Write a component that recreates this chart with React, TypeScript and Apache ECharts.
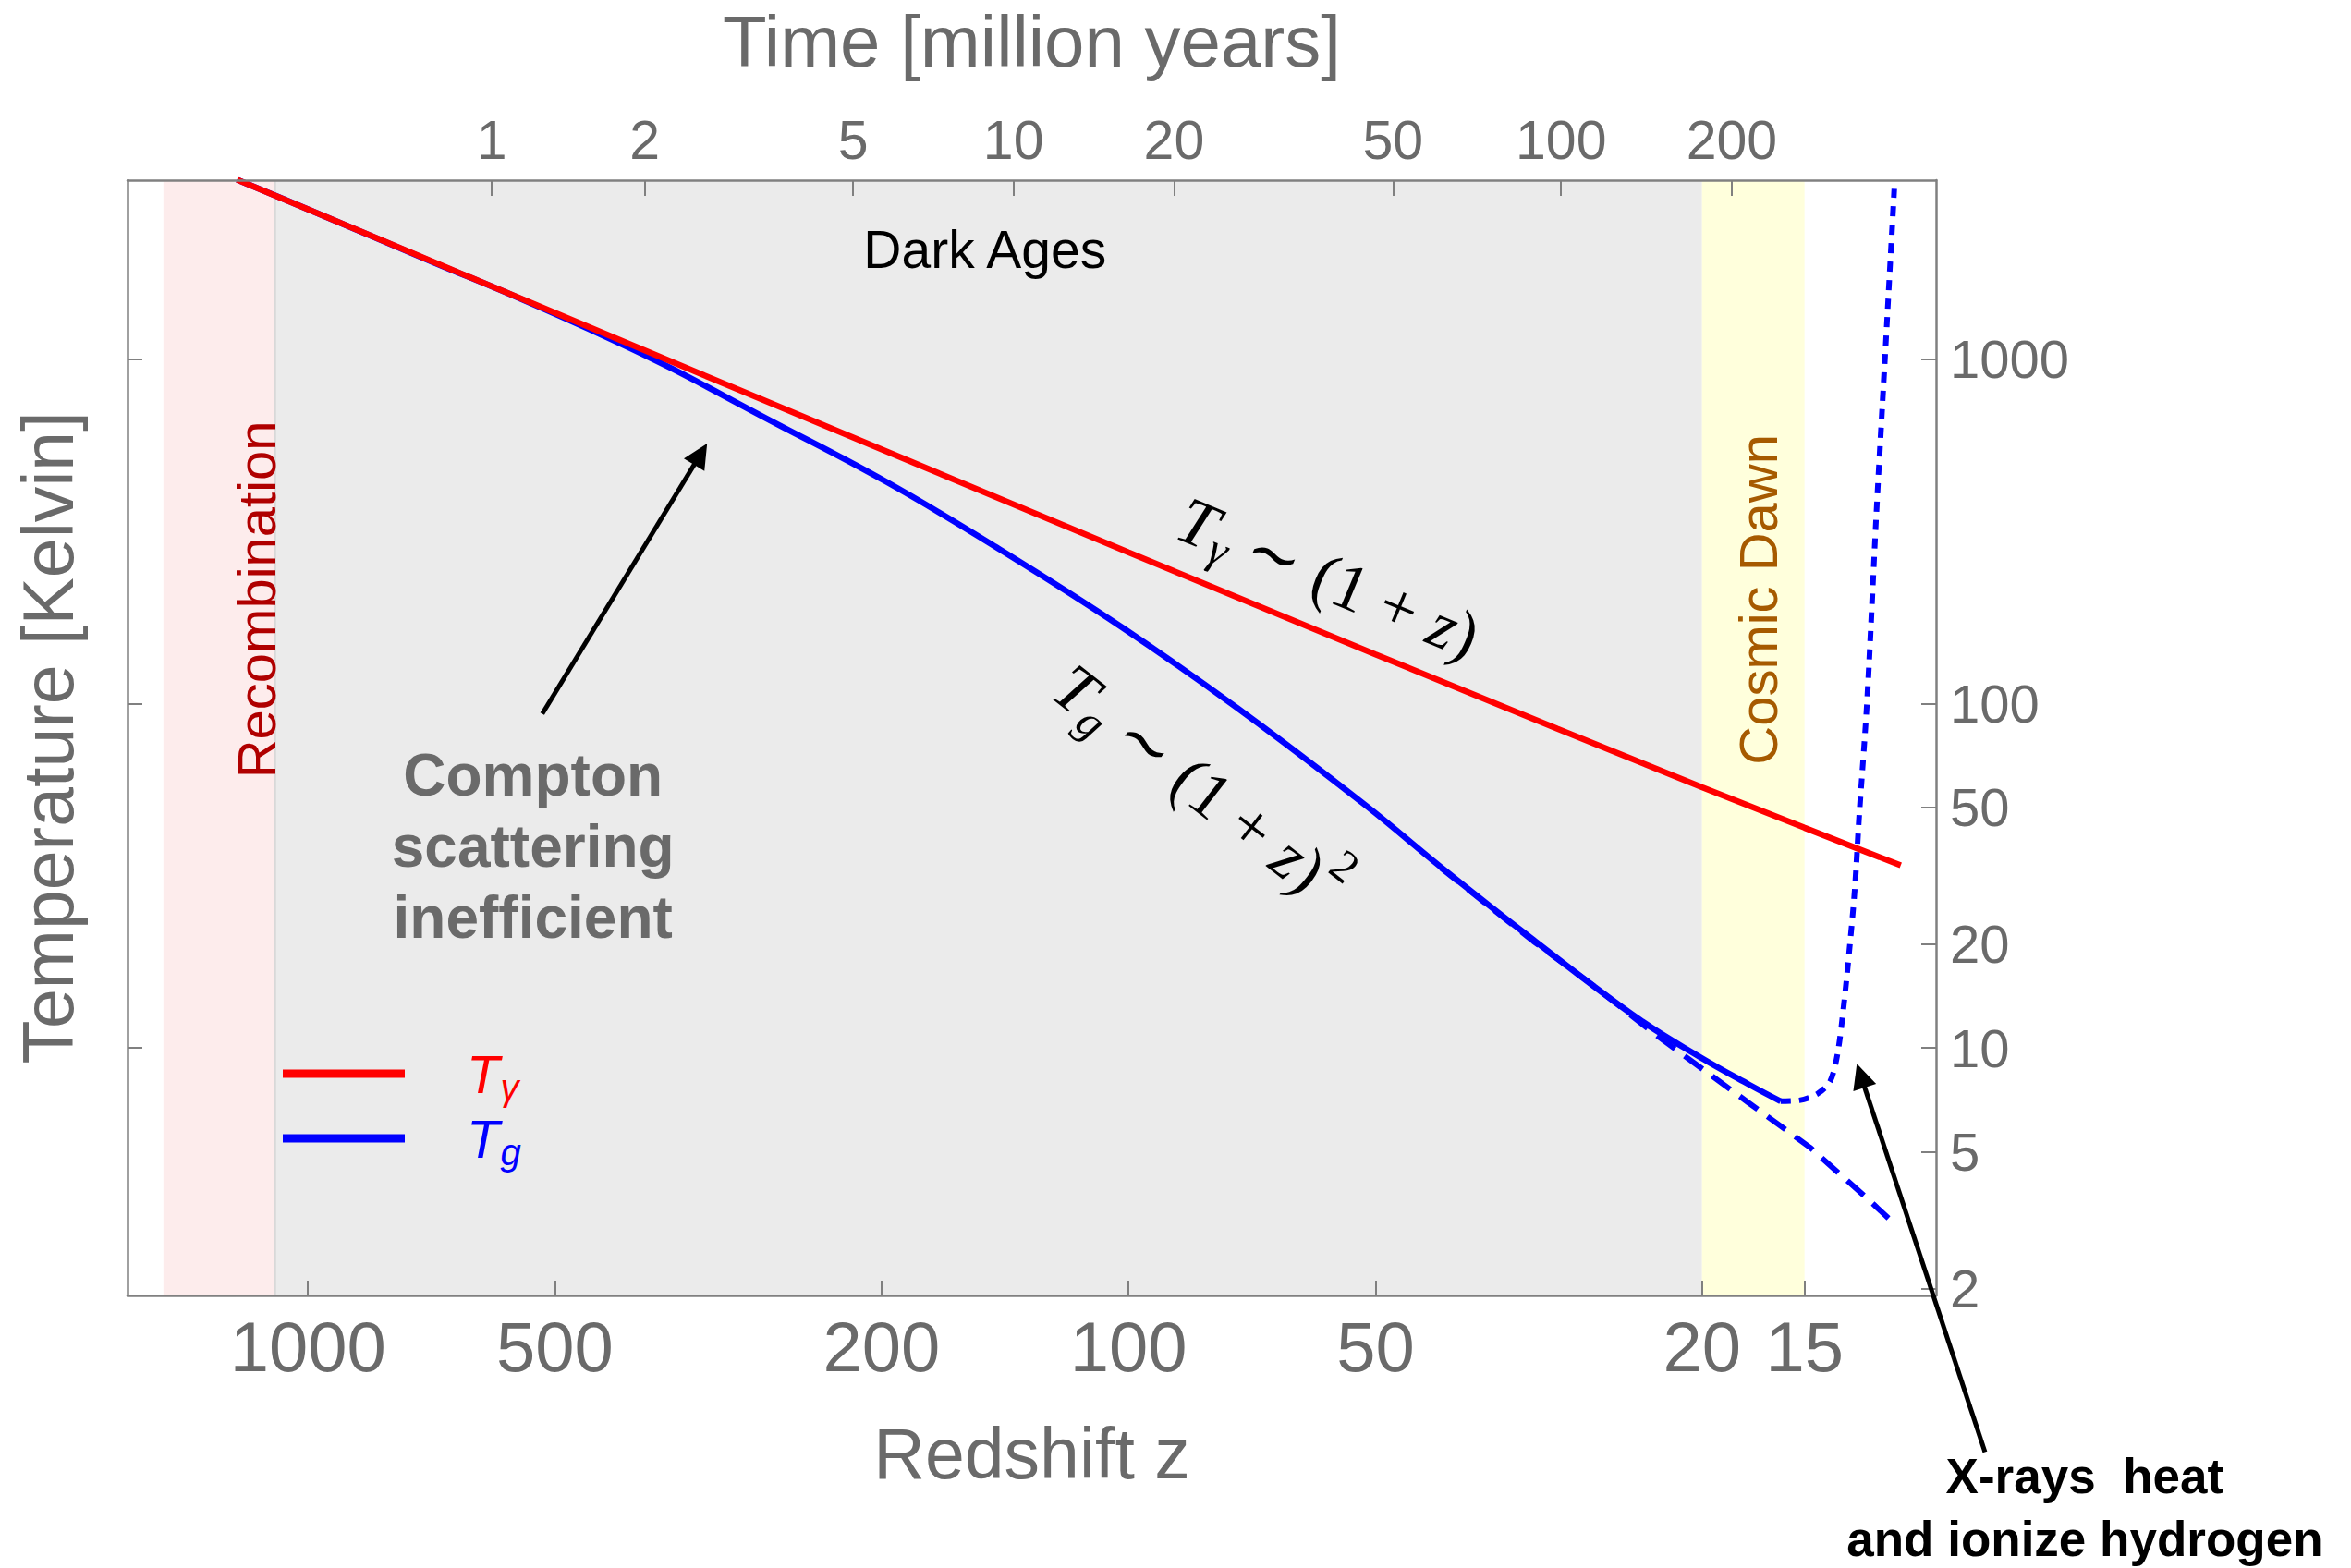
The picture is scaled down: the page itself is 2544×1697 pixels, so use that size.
import React, { useEffect, useRef } from "react";
import * as echarts from "echarts";

const SANS = "'Liberation Sans', Arial, Helvetica, sans-serif";
const SERIF = "'Liberation Serif', 'DejaVu Serif', 'Times New Roman', serif";

// CMB photon temperature T_gamma (K) against redshift z
const photonZ = [1220, 1000, 700, 500, 300, 200, 100, 50, 30, 20, 15, 11.45];
const photonT = [3327, 2730, 1910, 1365, 820, 548, 275, 139, 84.5, 57.2, 43.6, 33.9];

// Gas kinetic temperature T_g (K), standard history down to Cosmic Dawn
const gasZ = [1220, 1000, 700, 555, 428, 360, 278, 197, 144, 102, 72.3, 51.2, 41.6, 32.1, 23.96, 20.16, 17.55, 16.04];
const gasT = [3327, 2730, 1905, 1512, 1147, 940, 679, 440, 282, 167, 94, 50.3, 33.5, 20.6, 12.2, 9.44, 7.84, 7.0];

// Purely adiabatic cooling continued without any heating
const adiabaticZ = [41.6, 32.1, 26.96, 22.75, 17.55, 14.77, 12.59, 11.85];
const adiabaticT = [33.3, 20.4, 15.0, 10.9, 6.93, 5.14, 3.66, 3.2];

// Gas heated by X-rays after the first sources switch on
const heatedZ = [16.04, 15.22, 14.45, 13.96, 13.67, 13.43, 13.2, 13.03, 12.86, 12.59, 12.27, 11.97, 11.66];
const heatedT = [7.0, 7.04, 7.37, 8.0, 9.64, 13.4, 20.2, 28.7, 48.1, 100, 344, 1000, 3130];

// Axis ticks
const redshiftTicks = [1000, 500, 200, 100, 50, 20, 15];
const timeTicksMyr = [1, 2, 5, 10, 20, 50, 100, 200];
const timeTickRedshift = [597, 388.6, 216.6, 138.1, 88.0, 47.6, 29.7, 18.4];
const tempTicksLabelled = [2, 5, 10, 20, 50, 100, 1000];
const tempTicksPlain = [10, 100, 1000];
const redshiftRange = [10.37, 1659];
const tempRange = [1.91, 3315];

// Epochs as redshift intervals
const epochNames = ["Recombination", "Dark Ages", "Cosmic Dawn"];
const epochStartZ = [1500, 1100, 20];
const epochEndZ = [1100, 20, 15];

const epochFills = ["#fdecec", "#ebebeb", "#ffffdc"];

const lg = Math.log10;
const toPoints = (zs: number[], ts: number[]) => zs.map((z, i) => [lg(z), lg(ts[i])]);

const GREY = "#6a6a6a";
const axisLineStyle = { color: "#808080", width: 2.5 };
const tickLineStyle = { color: "#808080", width: 2 };

function arrow(tail: number[], tip: number[]) {
  const dx = tip[0] - tail[0];
  const dy = tip[1] - tail[1];
  const len = Math.hypot(dx, dy);
  const ux = dx / len;
  const uy = dy / len;
  const headLen = 27;
  const halfW = 13;
  const bx = tip[0] - ux * headLen;
  const by = tip[1] - uy * headLen;
  return [
    {
      type: "line",
      z: 100,
      silent: true,
      shape: { x1: tail[0], y1: tail[1], x2: bx + ux * 3, y2: by + uy * 3 },
      style: { stroke: "#000", lineWidth: 5 },
    },
    {
      type: "polygon",
      z: 100,
      silent: true,
      shape: {
        points: [
          [tip[0], tip[1]],
          [bx - uy * halfW, by + ux * halfW],
          [bx + uy * halfW, by - ux * halfW],
        ],
      },
      style: { fill: "#000" },
    },
  ];
}

const mathRich = {
  it: { fontFamily: SERIF, fontStyle: "italic", fontSize: 72, lineHeight: 110, color: "#000" },
  rm: { fontFamily: SERIF, fontSize: 72, lineHeight: 110, color: "#000" },
  sub: {
    fontFamily: SERIF,
    fontStyle: "italic",
    fontSize: 49,
    color: "#000",
    verticalAlign: "bottom",
    padding: [0, 0, 13, 2],
  },
  sup: {
    fontFamily: SERIF,
    fontSize: 49,
    color: "#000",
    verticalAlign: "top",
    padding: [2, 0, 0, 3],
  },
};

export default function App() {
  const ref = useRef<HTMLDivElement>(null);

  useEffect(() => {
    if (!ref.current) return;
    const chart = echarts.init(ref.current, null, { renderer: "svg" });

    const xCommon = {
      type: "value",
      inverse: true,
      min: lg(redshiftRange[0]),
      max: lg(redshiftRange[1]),
      z: 10,
      nameLocation: "middle",
      splitLine: { show: false },
      axisLine: { show: true, onZero: false, lineStyle: axisLineStyle },
    };
    const yCommon = {
      type: "value",
      min: lg(tempRange[0]),
      max: lg(tempRange[1]),
      z: 10,
      splitLine: { show: false },
      axisLine: { show: true, onZero: false, lineStyle: axisLineStyle },
    };

    const option: any = {
      animation: false,
      backgroundColor: "#ffffff",
      grid: { left: 138, right: 449, top: 195, bottom: 295, outerBoundsMode: "none" },
      legend: {
        show: true,
        orient: "vertical",
        left: 306,
        top: 1133,
        padding: 0,
        itemGap: 6,
        icon: "rect",
        itemWidth: 132,
        itemHeight: 9,
        selectedMode: false,
        data: ["Tγ", "Tg"],
        formatter: (name: string) => (name === "Tγ" ? "{tr|T}{sr|γ}" : "{tb|T}{sb|g}"),
        textStyle: {
          rich: {
            tr: { fontFamily: SANS, fontStyle: "italic", fontSize: 58, color: "#ff0000", lineHeight: 70, padding: [0, 0, 0, 62] },
            sr: { fontFamily: SANS, fontStyle: "italic", fontSize: 40, color: "#ff0000", verticalAlign: "bottom", padding: [0, 0, 0, 1] },
            tb: { fontFamily: SANS, fontStyle: "italic", fontSize: 58, color: "#0000ff", lineHeight: 70, padding: [0, 0, 0, 62] },
            sb: { fontFamily: SANS, fontStyle: "italic", fontSize: 40, color: "#0000ff", verticalAlign: "bottom", padding: [0, 0, 0, 1] },
          },
        },
      },
      xAxis: [
        {
          ...xCommon,
          position: "bottom",
          name: "Redshift z",
          nameGap: 132,
          nameTextStyle: { fontSize: 77, color: GREY, fontFamily: SANS },
          axisTick: { show: true, inside: true, length: 16, lineStyle: tickLineStyle, customValues: redshiftTicks.map(lg) },
          axisLabel: {
            show: true,
            customValues: redshiftTicks.map(lg),
            formatter: (v: number) => String(Math.round(Math.pow(10, v))),
            fontSize: 76,
            color: GREY,
            fontFamily: SANS,
            margin: 17,
          },
        },
        {
          ...xCommon,
          position: "top",
          name: "Time [million years]",
          nameGap: 111,
          nameTextStyle: { fontSize: 78, color: GREY, fontFamily: SANS },
          axisTick: { show: true, inside: true, length: 17, lineStyle: tickLineStyle, customValues: timeTickRedshift.map(lg) },
          axisLabel: {
            show: true,
            customValues: timeTickRedshift.map(lg),
            formatter: (v: number) => {
              const i = timeTickRedshift.findIndex((z) => Math.abs(lg(z) - v) < 1e-9);
              return i >= 0 ? String(timeTicksMyr[i]) : "";
            },
            fontSize: 59,
            color: GREY,
            fontFamily: SANS,
            margin: 14,
          },
        },
      ],
      yAxis: [
        {
          ...yCommon,
          position: "left",
          name: "Temperature [Kelvin]",
          nameLocation: "middle",
          nameRotate: 90,
          nameGap: 48,
          nameTextStyle: { fontSize: 77, color: GREY, fontFamily: SANS },
          axisTick: { show: true, inside: true, length: 16, lineStyle: tickLineStyle, customValues: tempTicksPlain.map(lg) },
          axisLabel: { show: false },
        },
        {
          ...yCommon,
          position: "right",
          axisTick: { show: true, inside: true, length: 16, lineStyle: tickLineStyle, customValues: tempTicksLabelled.map(lg) },
          axisLabel: {
            show: true,
            customValues: tempTicksLabelled.map(lg),
            formatter: (v: number) => String(Math.round(Math.pow(10, v))),
            fontSize: 58,
            color: GREY,
            fontFamily: SANS,
            margin: 15,
          },
        },
      ],
      series: [
        {
          name: "adiabatic",
          type: "line",
          xAxisIndex: 0,
          yAxisIndex: 0,
          data: toPoints(adiabaticZ, adiabaticT),
          symbol: "none",
          silent: true,
          color: "#0000ff",
          lineStyle: { color: "#0000ff", width: 6, type: [24, 13] },
          markArea: {
            silent: true,
            z: 0,
            label: { show: false },
            data: epochStartZ.map((s, i) => [
              { name: epochNames[i], xAxis: lg(s), itemStyle: { color: epochFills[i] } },
              { xAxis: lg(epochEndZ[i]) },
            ]),
          },
          markLine: {
            silent: true,
            z: 1,
            symbol: ["none", "none"],
            label: { show: false },
            lineStyle: { color: "#d8d8d8", width: 2.5, type: "solid" },
            data: [{ xAxis: lg(epochStartZ[1]) }],
          },
        },
        {
          name: "heated",
          type: "line",
          xAxisIndex: 0,
          yAxisIndex: 0,
          data: toPoints(heatedZ, heatedT),
          symbol: "none",
          silent: true,
          smooth: 0.3,
          color: "#0000ff",
          lineStyle: { color: "#0000ff", width: 6, type: [11, 9] },
        },
        {
          name: "Tg",
          type: "line",
          xAxisIndex: 0,
          yAxisIndex: 0,
          data: toPoints(gasZ, gasT),
          symbol: "none",
          silent: true,
          smooth: 0.4,
          color: "#0000ff",
          lineStyle: { color: "#0000ff", width: 6.5 },
        },
        {
          name: "Tγ",
          type: "line",
          xAxisIndex: 0,
          yAxisIndex: 0,
          data: toPoints(photonZ, photonT),
          symbol: "none",
          silent: true,
          color: "#ff0000",
          lineStyle: { color: "#ff0000", width: 6.5 },
        },
      ],
    };

    chart.setOption(option);

    const P = (z: number, t: number) =>
      chart.convertToPixel({ xAxisIndex: 0, yAxisIndex: 0 }, [lg(z), lg(t)]) as number[];

    const text = (pos: number[], style: any, rotation = 0) => ({
      type: "text",
      z: 100,
      silent: true,
      x: pos[0],
      y: pos[1],
      rotation,
      style: { align: "center", verticalAlign: "middle", fontFamily: SANS, ...style },
    });

    const deg = Math.PI / 180;
    const graphic = [
      text(P(149.6, 2086), { text: epochNames[1], fontSize: 57, fill: "#000" }),
      text(P(1156.5, 200.6), { text: epochNames[0], fontSize: 58, fill: "#b00000" }, 90 * deg),
      text(P(17.07, 200.6), { text: epochNames[2], fontSize: 58, fill: "#a65a00" }, 90 * deg),
      text(
        P(57.06, 232),
        { text: "{it|T}{sub|γ}{rm| ∼ (1 + }{it|z}{rm|)}", rich: mathRich },
        -22.6 * deg
      ),
      text(
        P(81.9, 57.6),
        { text: "{it|T}{sub|g}{rm| ∼ (1 + }{it|z}{rm|)}{sup|2}", rich: mathRich },
        -38 * deg
      ),
      text(P(531.8, 38.5), {
        text: "Compton\nscattering\ninefficient",
        fontSize: 64,
        fontWeight: "bold",
        lineHeight: 77,
        fill: GREY,
      }),
      text(P(6.833, 0.4623), {
        text: "X-rays  heat\nand ionize hydrogen",
        fontSize: 53,
        fontWeight: "bold",
        lineHeight: 68,
        fill: "#000",
      }),
      ...arrow(P(518.1, 93.4), P(326.2, 570)),
      ...arrow(P(9.04, 0.6697), P(12.95, 8.99)),
    ];

    chart.setOption({ graphic });

    return () => {
      chart.dispose();
    };
  }, []);

  return (
    <div
      ref={ref}
      style={{ position: "fixed", left: 0, top: 0, width: 2544, height: 1697, background: "#fff" }}
    />
  );
}
